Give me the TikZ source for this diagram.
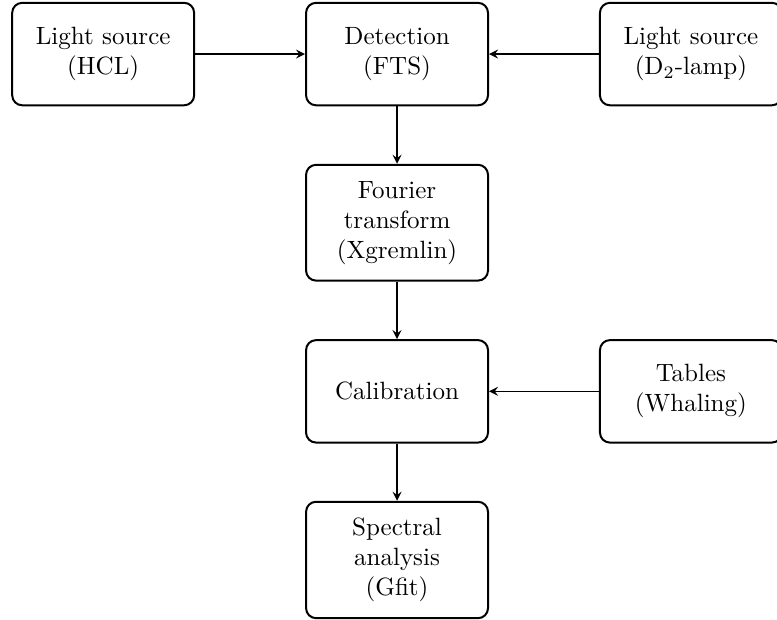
\documentclass[tikz,border=0pt]{standalone}
\usepackage{amsmath,amssymb}
\usepackage{tikz}

\begin{document}
\begin{tikzpicture}[
  box/.style={draw,thick,rounded corners,minimum width=2.55cm,minimum height=1.44cm,
    text width=2.1cm,align=center,inner sep=6.5pt},
  link/.style={->,>=stealth,semithick}]
\useasboundingbox (-5.58,0.76) rectangle (5.34,-7.94);
\node[box](hcl) at (-4.13,0){Light source\\(HCL)};
\node[box](fts) at (0,0){Detection\\(FTS)};
\node[box](dlamp) at (4.13,0){Light source\\(D$_2$-lamp)};
\node[box](xgr) at (0,-2.37){Fourier\\transform\\(Xgremlin)};
\node[box](cal) at (0,-4.74){Calibration};
\node[box](tab) at (4.13,-4.74){Tables\\(Whaling)};
\node[box](gfit) at (0,-7.11){Spectral\\analysis\\(Gfit)};
\draw[link] (hcl) -- (fts);
\draw[link] (dlamp) -- (fts);
\draw[link] (fts) -- (xgr);
\draw[link] (xgr) -- (cal);
\draw[link] (tab) -- (cal);
\draw[link] (cal) -- (gfit);
\end{tikzpicture}
\end{document}
